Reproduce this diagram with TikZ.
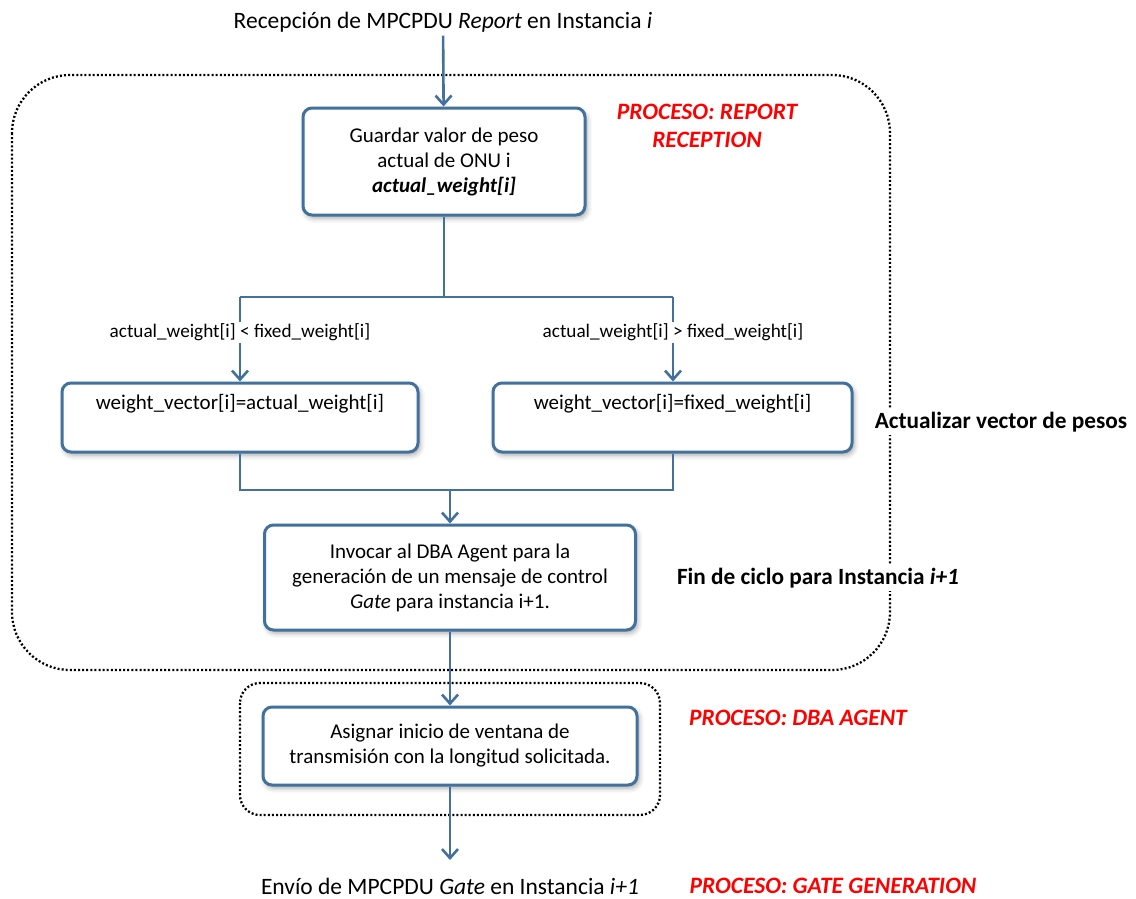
\documentclass[tikz,border=0pt]{standalone}
\usepackage{fontspec}
\setmainfont{Carlito}
\usetikzlibrary{arrows.meta,shadows.blur}
\definecolor{flowblue}{RGB}{65,113,156}
\definecolor{procred}{RGB}{255,0,0}
\begin{document}
\begin{tikzpicture}[x=1pt,y=-1pt,
  stepbox/.style={rectangle, draw=flowblue, line width=3pt, rounded corners=9pt,
    fill=white, align=center, inner sep=0pt,
    blur shadow={shadow xshift=2pt, shadow yshift=-3pt, shadow blur radius=5pt, shadow opacity=35}},
  conn/.style={draw=flowblue, line width=2.6pt},
  arr/.style={conn, -{Straight Barb[length=9pt,width=16pt,line width=2.6pt]}},
  procfield/.style={draw=black, line width=2.3pt, dash pattern=on 2pt off 2.1pt},
  boxtext/.style={font=\fontsize{21}{25}\selectfont},
  condtext/.style={font=\fontsize{19.2}{22}\selectfont, fill=white, inner sep=2pt},
  endtext/.style={font=\fontsize{23.5}{26}\selectfont},
  sidetext/.style={font=\bfseries\fontsize{23.3}{26}\selectfont, fill=white, inner xsep=2pt},
  proctext/.style={font=\bfseries\itshape\fontsize{23.5}{28}\selectfont, text=procred, align=center},
]
\useasboundingbox (0,0) rectangle (1136,898);

% process fields
\draw[procfield, rounded corners=58pt] (12,75) rectangle (890,670);
\draw[procfield, rounded corners=20pt] (240,683) rectangle (660,815);

% start and end messages
\node[endtext] (start) at (443,22) {Recepción de MPCPDU \textit{Report} en Instancia \textit{i}};
\node[endtext] (finish) at (450,886) {Envío de MPCPDU \textit{Gate} en Instancia \textit{i+1}};

% steps
\node[stepbox, boxtext, minimum width=282pt, minimum height=107pt] (save) at (444,161.5)
  {Guardar valor de peso\\ actual de ONU i\\ \textbf{\textit{actual\_weight[i]}}};
\node[stepbox, boxtext, minimum width=356pt, minimum height=69pt] (lowvec) at (240,417.5)
  {weight\_vector[i]=actual\_weight[i]\\[-2pt] \strut};
\node[stepbox, boxtext, minimum width=359pt, minimum height=69pt] (highvec) at (672.5,417.5)
  {weight\_vector[i]=fixed\_weight[i]\\[-2pt] \strut};
\node[stepbox, boxtext, minimum width=371pt, minimum height=105pt] (invoke) at (450,577.5)
  {Invocar al DBA Agent para la\\ generación de un mensaje de control\\ \textit{Gate} para instancia i+1.};
\node[stepbox, boxtext, minimum width=374pt, minimum height=78pt] (assign) at (450,746)
  {Asignar inicio de ventana de\\ transmisión con la longitud solicitada.};

% branch and merge points
\coordinate (split) at (444,297);
\coordinate (lsplit) at (240,297);
\coordinate (rsplit) at (673,297);
\coordinate (lmerge) at (240,490);
\coordinate (rmerge) at (673,490);
\coordinate (merge) at (450,490);
\coordinate (out) at (450,860);

% connectors
\draw[arr] (start) -- (save);
\draw[conn] (save.south) -- (split);
\draw[conn] (lsplit) -- (rsplit);
\draw[arr] (lsplit) -- node[condtext, pos=0.42] (lcond) {actual\_weight[i] < fixed\_weight[i]} (lsplit |- lowvec.north);
\draw[arr] (rsplit) -- node[condtext, pos=0.42] (rcond) {actual\_weight[i] > fixed\_weight[i]} (rsplit |- highvec.north);
\draw[conn] (lmerge |- lowvec.south) -- (lmerge) -- (rmerge) -- (rmerge |- highvec.south);
\draw[arr] (merge) -- (invoke.north);
\draw[arr] (invoke.south) -- (assign.north);
\draw[arr] (assign.south) -- (out);

% side notes
\node[sidetext] (update) at (1001,422) {Actualizar vector de pesos};
\node[sidetext] (cycle) at (818,578) {Fin de ciclo para Instancia \textit{i+1}};
\node[proctext] (reportproc) at (707,126) {PROCESO: REPORT\\ RECEPTION};
\node[proctext] (dbaproc) at (798,718) {PROCESO: DBA AGENT};
\node[proctext] (gateproc) at (833,886) {PROCESO: GATE GENERATION};
\end{tikzpicture}
\end{document}
